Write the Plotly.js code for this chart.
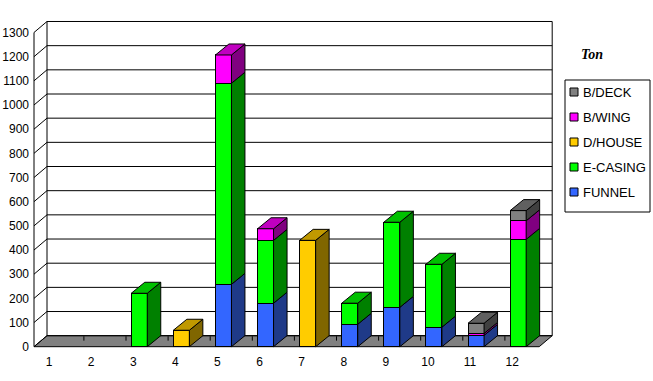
<!DOCTYPE html>
<html>
<head>
<meta charset="utf-8">
<script src="https://cdn.plot.ly/plotly-3.0.1.min.js"></script>
<style>html,body{margin:0;padding:0;background:#fff;}#chart{width:653px;height:381px;}</style>
</head>
<body>
<div id="chart"></div>
<script>
// ---- data ----
const categories = [1, 2, 3, 4, 5, 6, 7, 8, 9, 10, 11, 12];
const funnel   = [0, 0, 0,   0, 258, 180,   0, 93, 163,  81, 47,   0];
const eCasing  = [0, 0, 221, 0, 832, 260,   0, 87, 352, 260,  0, 444];
const dHouse   = [0, 0, 0,  68,   0,   0, 440,  0,   0,   0,  0,   0];
const bWing    = [0, 0, 0,   0, 117,  48,   0,  0,   0,   0,  8,  77];
const bDeck    = [0, 0, 0,   0,   0,   0,   0,  0,   0,   0, 42,  42];
const yTicks   = [0,100,200,300,400,500,600,700,800,900,1000,1100,1200,1300];
const seriesNames = ['FUNNEL', 'E-CASING', 'D/HOUSE', 'B/WING', 'B/DECK'];
const seriesData  = [funnel, eCasing, dHouse, bWing, bDeck];

// ---- styling / geometry ----
const frontCol = ['#3366FF', '#00FF00', '#FFCC00', '#FF00FF', '#808080'];
const sideCol  = ['#1F3A88', '#008000', '#806600', '#800080', '#404040'];
const topCol   = ['#2850C0', '#00C000', '#C09900', '#C000C0', '#606060'];

const W = 653, H = 381;
const L = 34, B = 346.7, CW = 42.1, K = 0.2417;  // front origin px, px per category, px per unit
const WDX = 13, WDY = 11;   // wall depth (px)
const BDX = 13.5, BDY = 11; // bar depth (px)
const PAD = 4;
const yMax = 1300;
const nCat = categories.length;
const x0 = categories[0] - 0.5, x1 = categories[nCat - 1] + 0.5;

const xr = [x0 - PAD / CW, x1 + (WDX + PAD) / CW];
const yr = [-PAD / K, yMax + (WDY + PAD) / K];
const pxLeft = L - PAD, pxRight = L + nCat * CW + WDX + PAD;
const pxBottom = B + PAD, pxTop = B - yMax * K - WDY - PAD;

const wdx = WDX / CW, wdy = WDY / K;
const bdx = BDX / CW, bdy = BDY / K;
const barW = 0.38, hw = barW / 2;

function poly(pts) {
  return 'M' + pts.map(p => p[0] + ',' + p[1]).join(' L') + ' Z';
}

const shapes = [];
// floor
shapes.push({type: 'path', xref: 'x', yref: 'y', layer: 'below',
  path: poly([[x0, 0], [x1, 0], [x1 + wdx, wdy], [x0 + wdx, wdy]]),
  fillcolor: '#808080', line: {color: '#000', width: 1}});
// floor tick marks
for (let k = 1; k < nCat; k++) {
  const xb = x0 + k + wdx * 0.6;
  shapes.push({type: 'line', xref: 'x', yref: 'y', layer: 'below',
    x0: xb, x1: xb, y0: wdy * 0.55, y1: wdy * 0.95, line: {color: '#000', width: 1}});
}
// back wall gridlines and left wall diagonals
yTicks.forEach(v => {
  shapes.push({type: 'line', xref: 'x', yref: 'y', layer: 'below',
    x0: x0 + wdx, x1: x1 + wdx, y0: v + wdy, y1: v + wdy, line: {color: '#000', width: 1}});
  shapes.push({type: 'line', xref: 'x', yref: 'y', layer: 'below',
    x0: x0, x1: x0 + wdx, y0: v, y1: v + wdy, line: {color: '#000', width: 1}});
});
// back wall edges and front axis
shapes.push({type: 'line', xref: 'x', yref: 'y', layer: 'below',
  x0: x0 + wdx, x1: x0 + wdx, y0: wdy, y1: yMax + wdy, line: {color: '#000', width: 1}});
shapes.push({type: 'line', xref: 'x', yref: 'y', layer: 'below',
  x0: x1 + wdx, x1: x1 + wdx, y0: wdy, y1: yMax + wdy, line: {color: '#000', width: 1}});
shapes.push({type: 'line', xref: 'x', yref: 'y', layer: 'below',
  x0: x0, x1: x0, y0: 0, y1: yMax, line: {color: '#000', width: 1}});

// 3D side and top faces of the stacked bars
categories.forEach((c, i) => {
  let base = 0, topIdx = -1, topVal = 0;
  seriesData.forEach((arr, s) => {
    const v = arr[i];
    if (!v) return;
    const t = base + v;
    shapes.push({type: 'path', xref: 'x', yref: 'y', layer: 'above',
      path: poly([[c + hw, base], [c + hw + bdx, base + bdy], [c + hw + bdx, t + bdy], [c + hw, t]]),
      fillcolor: sideCol[s], line: {color: '#000', width: 1}});
    base = t; topIdx = s; topVal = t;
  });
  if (topIdx >= 0) {
    shapes.push({type: 'path', xref: 'x', yref: 'y', layer: 'above',
      path: poly([[c - hw, topVal], [c + hw, topVal], [c + hw + bdx, topVal + bdy], [c - hw + bdx, topVal + bdy]]),
      fillcolor: topCol[topIdx], line: {color: '#000', width: 1}});
  }
});

// custom legend (box at right, entries top to bottom in reversed series order)
const annotations = [];
const lgL = 565, lgT = 80, lgR = 650, lgB = 212, rowH = 25, firstRow = 92;
const px = x => x / W, py = y => (H - y) / H;
shapes.push({type: 'rect', xref: 'paper', yref: 'paper', layer: 'above',
  x0: px(lgL), x1: px(lgR), y0: py(lgB), y1: py(lgT),
  fillcolor: '#fff', line: {color: '#000', width: 1}});
seriesNames.slice().reverse().forEach((name, r) => {
  const s = seriesNames.indexOf(name);
  const cy = firstRow + r * rowH;
  shapes.push({type: 'rect', xref: 'paper', yref: 'paper', layer: 'above',
    x0: px(570), x1: px(578), y0: py(cy + 4), y1: py(cy - 4),
    fillcolor: frontCol[s], line: {color: '#000', width: 1}});
  annotations.push({text: name, xref: 'paper', yref: 'paper', x: px(581), y: py(cy),
    xanchor: 'left', yanchor: 'middle', showarrow: false,
    font: {family: 'Liberation Sans, Arial, sans-serif', size: 13, color: '#000'}});
});
annotations.push({text: 'Ton', xref: 'paper', yref: 'paper', x: px(605), y: py(45),
  showarrow: false, font: {family: 'Liberation Serif, serif', size: 14, style: 'italic', weight: 'bold'}});

const traces = seriesNames.map((name, s) => ({
  type: 'bar', name: name, x: categories,
  y: seriesData[s].map(v => v === 0 ? null : v),
  width: barW,
  marker: {color: frontCol[s], line: {color: '#000', width: 1}},
  hoverinfo: 'x+y+name'
}));

const layout = {
  width: W, height: H,
  margin: {l: 0, r: 0, t: 0, b: 0},
  paper_bgcolor: '#fff', plot_bgcolor: 'rgba(0,0,0,0)',
  barmode: 'stack',
  showlegend: false,
  font: {family: 'Liberation Sans, Arial, sans-serif', size: 12, color: '#000'},
  xaxis: {domain: [pxLeft / W, pxRight / W], range: xr, tickvals: categories,
    ticktext: categories.map(String), showgrid: false, zeroline: false, showline: false,
    ticks: '', ticklabelshift: -6, ticklabelstandoff: 2, fixedrange: true},
  yaxis: {domain: [(H - pxBottom) / H, (H - pxTop) / H], range: yr, tickvals: yTicks,
    showgrid: false, zeroline: false, showline: false, ticks: '', ticklabelstandoff: 0, fixedrange: true},
  shapes: shapes,
  annotations: annotations
};

Plotly.newPlot('chart', traces, layout, {displayModeBar: false, staticPlot: true});
</script>
</body>
</html>
